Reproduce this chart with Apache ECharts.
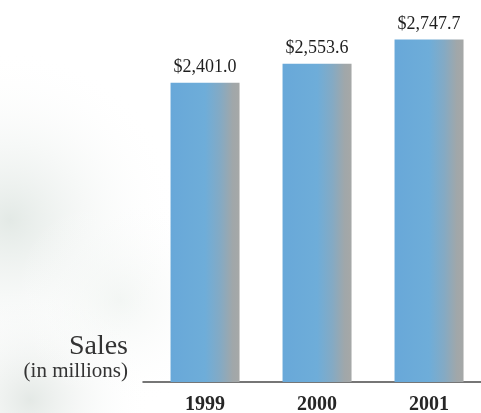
<!DOCTYPE html>
<html>
<head>
<meta charset="utf-8">
<script src="https://cdn.jsdelivr.net/npm/echarts@6/dist/echarts.min.js"></script>
<style>
  html, body { margin: 0; padding: 0; background: #ffffff; }
  #chart { width: 481px; height: 413px; }
</style>
</head>
<body>
<div id="chart"></div>
<script>
// Annual sales, in millions of dollars
const years = ['1999', '2000', '2001'];
const sales = [2401.0, 2553.6, 2747.7];

const serif = '"Liberation Serif", "DejaVu Serif", serif';

const chart = echarts.init(document.getElementById('chart'), null, { renderer: 'canvas' });

// Blue face shading into grey on the right edge of each column
const barFill = new echarts.graphic.LinearGradient(0, 0, 1, 0, [
  { offset: 0, color: '#68a8d9' },
  { offset: 0.5, color: '#6eadd9' },
  { offset: 0.72, color: '#84aac4' },
  { offset: 0.9, color: '#a0a7aa' },
  { offset: 1, color: '#a6a8a7' }
]);

// Soft shaded paper on the left side
function haze(cx, cy, r, color) {
  return {
    type: 'circle',
    silent: true,
    z: -10,
    shape: { cx: cx, cy: cy, r: r },
    style: {
      fill: new echarts.graphic.RadialGradient(0.5, 0.5, 0.5, [
        { offset: 0, color: color },
        { offset: 1, color: 'rgba(255,255,255,0)' }
      ])
    }
  };
}

// Column positions are year indices on a numeric x axis
const points = sales.map((v, i) => [i, v]);

chart.setOption({
  animation: false,
  backgroundColor: '#ffffff',
  grid: { left: 143, right: 0, top: 8, bottom: 31, containLabel: false, outerBoundsMode: 'none' },
  xAxis: {
    type: 'value',
    min: -0.554,
    max: 2.464,
    splitLine: { show: false },
    axisLine: { show: true, onZero: false, lineStyle: { color: '#4a4a4a', width: 1.5 } },
    axisTick: { show: false },
    axisLabel: {
      customValues: [0, 1, 2],
      formatter: v => years[Math.round(v)],
      margin: 13,
      fontFamily: serif,
      fontSize: 20,
      fontWeight: 'bold',
      color: '#262626'
    }
  },
  yAxis: {
    type: 'value',
    min: 0,
    max: 3000,
    show: false,
    splitLine: { show: false }
  },
  series: [{
    type: 'bar',
    data: points,
    barWidth: 69,
    itemStyle: { color: barFill },
    label: {
      show: true,
      position: 'top',
      distance: 6,
      fontFamily: serif,
      fontSize: 18,
      color: '#1e1e1e',
      formatter: function (p) {
        return '$' + p.value[1].toLocaleString('en-US', { minimumFractionDigits: 1, maximumFractionDigits: 1 });
      }
    }
  }],
  graphic: [
    haze(10, 220, 170, 'rgba(215,224,219,0.7)'),
    haze(30, 400, 120, 'rgba(210,218,213,0.6)'),
    haze(120, 300, 110, 'rgba(232,238,234,0.5)'),
    {
      type: 'text',
      right: 481 - 128,
      top: 333,
      style: {
        text: 'Sales',
        fontFamily: serif,
        fontSize: 28,
        fill: '#333333',
        align: 'right'
      }
    },
    {
      type: 'text',
      right: 481 - 128,
      top: 361,
      style: {
        text: '(in millions)',
        fontFamily: serif,
        fontSize: 21,
        fill: '#333333',
        align: 'right'
      }
    }
  ]
});
</script>
</body>
</html>
